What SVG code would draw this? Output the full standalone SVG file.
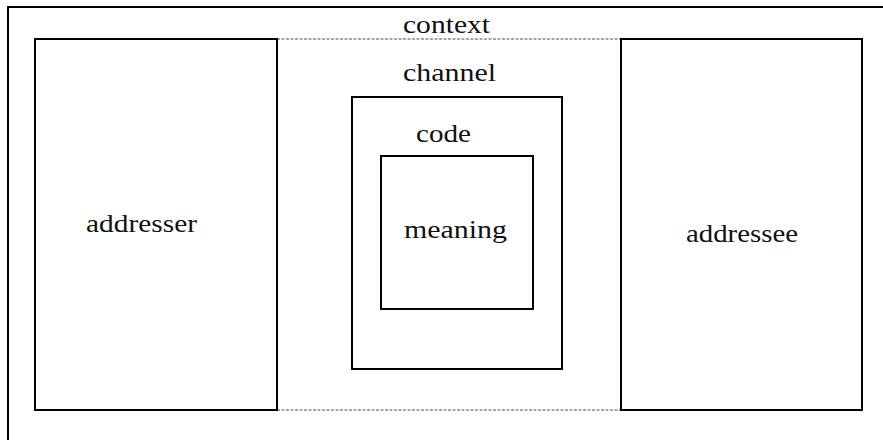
<svg xmlns="http://www.w3.org/2000/svg" width="883" height="440" viewBox="0 0 883 440">
<style>
.box{fill:none;stroke:#000;stroke-width:2}
.ctx{fill:none;stroke:#8a8a8a;stroke-width:1.5;stroke-dasharray:3 1.5}
text{font-family:'Liberation Serif',Tinos,'Times New Roman',Times,'Nimbus Roman','Nimbus Roman No9 L',FreeSerif,serif;font-size:25px;fill:#111}
</style>
<rect width="883" height="440" fill="#fff"/>
<g id="frame"><path class="box" d="M8 441 V7 H884"/></g>
<g id="connectors">
<line class="ctx" x1="277" y1="39" x2="621" y2="39"/>
<line class="ctx" x1="277" y1="410" x2="621" y2="410"/>
</g>
<g id="context"><text x="403" y="33" textLength="87" lengthAdjust="spacingAndGlyphs">context</text></g>
<g id="addresser">
<rect class="box" x="35" y="39" width="242" height="371"/>
<text x="86" y="232" textLength="111" lengthAdjust="spacingAndGlyphs">addresser</text>
</g>
<g id="addressee">
<rect class="box" x="621" y="39" width="241" height="371"/>
<text x="686" y="242" textLength="112" lengthAdjust="spacingAndGlyphs">addressee</text>
</g>
<g id="channel">
<rect class="box" x="352" y="97" width="210" height="272"/>
<text x="403" y="81" textLength="93" lengthAdjust="spacingAndGlyphs">channel</text>
</g>
<g id="code">
<rect class="box" x="381" y="156" width="152" height="153"/>
<text x="416" y="142" textLength="55" lengthAdjust="spacingAndGlyphs">code</text>
</g>
<g id="meaning"><text x="404" y="238" textLength="103" lengthAdjust="spacingAndGlyphs">meaning</text></g>
</svg>
